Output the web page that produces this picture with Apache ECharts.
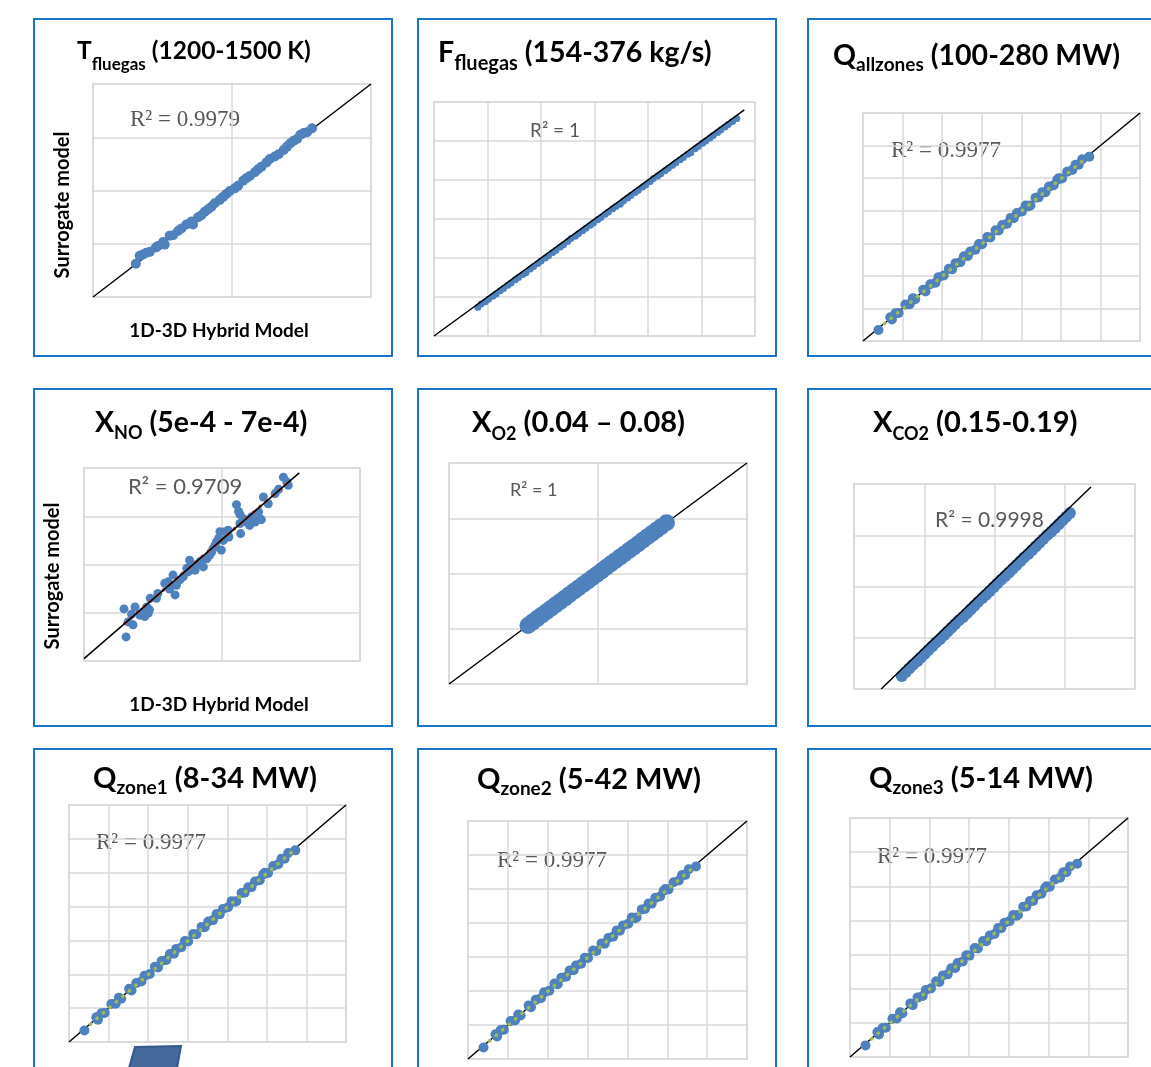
<!DOCTYPE html>
<html lang="en">
<head>
<meta charset="UTF-8">
<title>Surrogate model vs 1D-3D hybrid model</title>
<script src="https://cdn.jsdelivr.net/npm/echarts@6.0.0/dist/echarts.min.js"></script>
<style>
    html, body { margin: 0; padding: 0; background: #fff; }
    #main { width: 1151px; height: 1067px; }
</style>
</head>
<body>
<div id="main"></div>
<script>
    // values; the original has no tick labels, so axis units are nominal

    // T fluegas (K)
    var tX = [1077, 1084, 1090, 1096, 1102, 1113, 1117, 1126, 1129, 1138, 1144, 1153, 1159, 1168, 1177, 1180, 1189, 1195, 1201, 1207,
              1213, 1219, 1228, 1234, 1240, 1246, 1255, 1261, 1270, 1276, 1282, 1291, 1297, 1303, 1312, 1318, 1327, 1334, 1343, 1349,
              1355, 1361, 1367, 1373, 1379, 1385, 1394];
    var tY = [1078, 1097, 1100, 1104, 1106, 1116, 1120, 1129, 1123, 1144, 1145, 1155, 1161, 1170, 1177, 1170, 1187, 1192, 1200, 1206,
              1212, 1220, 1228, 1235, 1242, 1249, 1255, 1261, 1273, 1279, 1284, 1293, 1300, 1306, 1316, 1324, 1330, 1335, 1345, 1353,
              1361, 1367, 1371, 1381, 1385, 1387, 1396];
    var tRef = [[1000, 1000], [1500, 1500]];

    // F fluegas (kg/s)
    var fX = [141, 144, 148, 151, 155, 158, 162, 165, 169, 172, 176, 179, 183, 186, 190, 193, 197, 200, 204, 207,
              211, 214, 218, 221, 225, 228, 232, 235, 239, 242, 246, 249, 253, 256, 260, 263, 267, 270, 274, 277,
              281, 284, 288, 291, 295, 298, 302, 305, 309, 312, 316, 319, 323, 326, 330, 333, 337, 340, 344, 347,
              351, 354, 358, 361, 365, 368, 372, 375, 379, 383];
    var fY = [137, 141, 144, 147, 151, 154, 158, 161, 165, 168, 172, 175, 179, 181, 186, 189, 193, 196, 200, 203,
              207, 210, 214, 217, 221, 225, 228, 231, 235, 238, 242, 245, 249, 252, 256, 259, 263, 266, 269, 273,
              277, 280, 284, 287, 291, 294, 298, 302, 305, 308, 312, 315, 319, 322, 326, 329, 333, 335, 340, 343,
              347, 350, 354, 357, 361, 364, 368, 371, 375, 379];
    var fRef = [[100, 100], [390, 390]];

    // Q panels (allzones, zone1..3) show the same scatter, in % of the plotted range
    var qX = [3.9, 6.9, 7.3, 8.2, 9.0, 10.7, 11.8, 12.6, 13.2, 15.2, 15.8, 17.0, 18.3, 19.1, 20.4, 21.7, 22.5, 23.4, 24.6, 25.5,
              26.5, 27.1, 28.4, 29.3, 30.1, 31.4, 32.2, 33.5, 34.3, 35.2, 36.4, 37.3, 38.1, 38.9, 40.2, 41.1, 41.9, 42.3, 43.6, 44.4,
              45.3, 46.1, 47.0, 48.2, 49.1, 49.5, 50.3, 51.6, 52.9, 53.7, 54.5, 55.4, 57.2];
    var qY = [3.4, 7.3, 6.6, 8.5, 8.6, 11.2, 11.3, 13.1, 12.8, 15.7, 15.2, 17.4, 17.9, 19.6, 20.1, 22.2, 22.0, 23.9, 24.2, 26.0,
              26.1, 27.5, 28.0, 29.8, 29.7, 31.9, 31.8, 34.0, 33.9, 35.6, 36.0, 37.8, 37.7, 39.3, 39.8, 41.6, 41.4, 41.6, 44.0, 44.1,
              45.7, 45.7, 47.4, 47.8, 49.5, 50.0, 49.9, 52.0, 52.5, 54.1, 54.1, 55.8, 56.6];
    var qRef = [[0, 0], [70, 70]];
    var qTrend = [[5.4, 5.3], [56.7, 56.5]];

    // X NO (x 1e-4)
    var noX = [4.58, 4.61, 4.64, 4.71, 4.69, 4.74, 4.81, 4.86, 4.88, 4.91, 4.93, 4.95, 4.96, 5.07, 5.05, 5.17, 5.22, 5.24, 5.27, 5.29,
               5.32, 5.34, 5.39, 5.44, 5.49, 5.51, 5.53, 5.56, 5.61, 5.63, 5.68, 5.73, 5.78, 5.82, 5.85, 5.87, 5.90, 5.92, 5.95, 5.97,
               5.99, 6.02, 6.04, 6.09, 6.10, 6.21, 6.24, 6.26, 6.26, 6.27, 6.31, 6.36, 6.40, 6.43, 6.48, 6.53, 6.55, 6.57, 6.60, 6.67,
               6.77, 6.82, 6.89, 6.94, 6.96];
    var noY = [5.08, 4.50, 4.81, 4.75, 4.97, 5.12, 4.95, 5.02, 4.92, 5.12, 4.99, 5.06, 5.30, 5.40, 5.30, 5.61, 5.64, 5.49, 5.57, 5.78,
               5.37, 5.57, 5.68, 5.75, 5.92, 5.85, 6.09, 5.95, 5.88, 5.99, 6.06, 5.95, 6.12, 6.19, 6.26, 6.33, 6.40, 6.47, 6.54, 6.68,
               6.30, 6.50, 6.68, 6.71, 6.57, 7.24, 7.10, 7.04, 6.85, 6.64, 6.95, 6.88, 6.81, 6.99, 6.88, 7.09, 6.95, 6.93, 7.40, 7.26,
               7.47, 7.56, 7.81, 7.71, 7.64];
    var noRef = [[4.0, 4.05], [7.12, 7.9]];
    var noTrend = [[4.59, 4.78], [6.94, 7.68]];

    // X O2 (%)
    var o2X = [3.18, 3.36, 3.55, 3.73, 3.92, 4.10, 4.29, 4.47, 4.66, 4.84, 5.03, 5.21, 5.40, 5.58, 5.77, 5.95, 6.14, 6.32, 6.51, 6.69,
               6.88, 7.06, 7.25, 7.43, 7.62, 7.80, 7.99, 8.17, 8.36, 8.54, 8.76];
    var o2Y = [3.18, 3.36, 3.55, 3.73, 3.92, 4.10, 4.29, 4.47, 4.66, 4.84, 5.03, 5.21, 5.40, 5.58, 5.77, 5.95, 6.14, 6.32, 6.51, 6.69,
               6.88, 7.06, 7.25, 7.43, 7.62, 7.80, 7.99, 8.17, 8.36, 8.54, 8.76];
    var o2Ref = [[0, 0], [12, 12]];

    // X CO2 (%)
    var co2X = [14.52, 14.60, 14.68, 14.76, 14.85, 14.93, 15.01, 15.09, 15.17, 15.25, 15.34, 15.42, 15.50, 15.58, 15.66, 15.74,
                15.83, 15.91, 15.99, 16.07, 16.15, 16.24, 16.32, 16.40, 16.48, 16.56, 16.64, 16.73, 16.81, 16.89, 16.97, 17.05,
                17.13, 17.22, 17.30, 17.38, 17.46, 17.54, 17.62, 17.71, 17.79, 17.87, 17.95, 18.03, 18.11];
    var co2Y = [13.88, 13.99, 14.10, 14.21, 14.31, 14.42, 14.53, 14.64, 14.75, 14.86, 14.96, 15.07, 15.18, 15.29, 15.40, 15.51,
                15.61, 15.72, 15.83, 15.94, 16.05, 16.16, 16.26, 16.37, 16.48, 16.59, 16.70, 16.81, 16.91, 17.02, 17.13, 17.24,
                17.35, 17.45, 17.56, 17.67, 17.78, 17.89, 18.00, 18.10, 18.21, 18.32, 18.43, 18.54, 18.65];
    var co2Ref = [[14.08, 13.5], [18.56, 19.41]];

    var BLUE = '#4F81BD';
    var GRIDC = '#D9D9D9';
    var SERIF = '"Liberation Serif", "Times New Roman", serif';
    var SANS = 'Lato, "Open Sans", sans-serif';

    // layout of the nine panels
    // tpos: [left, middle y, main size, subscript size, subscript drop]
    var panels = [
        { box: [34, 19], grid: [93, 84, 278, 213], x: [1000, 1500, 250], y: [1000, 1500, 125],
          px: tX, py: tY, size: 10, ref: tRef, refTop: false,
          title: ['T', 'fluegas', ' (1200-1500 K)'], tpos: [77, 51, 24.5, 17, 28],
          r2: ['R² = 0.9979', 130, 120, SERIF, 23] },
        { box: [418, 19], grid: [434, 102, 321, 234], x: [100, 400, 50], y: [100, 400, 50],
          px: fX, py: fY, size: 7, ref: fRef, refTop: true,
          title: ['F', 'fluegas', ' (154-376 kg/s)'], tpos: [438, 53, 28.5, 20, 22],
          r2: ['R² = 1', 530, 131, SANS, 19] },
        { box: [808, 19], grid: [863, 113, 277, 228], x: [0, 70, 10], y: [0, 70, 10],
          px: qX, py: qY, size: 10, ref: qRef, refTop: false, trend: qTrend, trendColor: '#9BBB59',
          title: ['Q', 'allzones', ' (100-280 MW)'], tpos: [833, 56, 28.5, 19, 18],
          r2: ['R² = 0.9977', 891, 151, SERIF, 23] },
        { box: [34, 389], grid: [84, 468, 276, 193], x: [4, 8, 2], y: [4, 8, 1],
          px: noX, py: noY, size: 9, ref: noRef, refTop: true, trend: noTrend, trendColor: '#C0504D',
          title: ['X', 'NO', ' (5e-4 - 7e-4)'], tpos: [95, 423, 28.5, 18, 20],
          r2: ['R² = 0.9709', 128, 487, SANS, 22] },
        { box: [418, 389], grid: [449, 463, 298, 221], x: [0, 12, 6], y: [0, 12, 3],
          px: o2X, py: o2Y, size: 17, ref: o2Ref, refTop: false,
          title: ['X', 'O2', ' (0.04 – 0.08)'], tpos: [472, 423, 29, 18, 22],
          r2: ['R² = 1', 510, 490, SANS, 18] },
        { box: [808, 389], grid: [854, 484, 281, 205], x: [13.5, 19.5, 1.5], y: [13.5, 19.5, 1.5],
          px: co2X, py: co2Y, size: 12, ref: co2Ref, refTop: true,
          title: ['X', 'CO2', ' (0.15-0.19)'], tpos: [873, 423, 29, 18, 23],
          r2: ['R² = 0.9998', 935, 520, SANS, 21] },
        { box: [34, 749], grid: [69, 805, 277, 237], x: [0, 70, 10], y: [0, 70, 10],
          px: qX, py: qY, size: 10, ref: qRef, refTop: false, trend: qTrend, trendColor: '#9BBB59',
          title: ['Q', 'zone1', ' (8-34 MW)'], tpos: [93, 779, 29, 19, 18],
          r2: ['R² = 0.9977', 96, 843, SERIF, 23] },
        { box: [418, 749], grid: [468, 821, 279, 238], x: [0, 70, 10], y: [0, 70, 10],
          px: qX, py: qY, size: 10, ref: qRef, refTop: false, trend: qTrend, trendColor: '#9BBB59',
          title: ['Q', 'zone2', ' (5-42 MW)'], tpos: [477, 780, 29, 19, 18],
          r2: ['R² = 0.9977', 497, 861, SERIF, 23] },
        { box: [808, 749], grid: [850, 818, 278, 239], x: [0, 70, 10], y: [0, 70, 10],
          px: qX, py: qY, size: 10, ref: qRef, refTop: false, trend: qTrend, trendColor: '#9BBB59',
          title: ['Q', 'zone3', ' (5-14 MW)'], tpos: [869, 779, 29, 19, 18],
          r2: ['R² = 0.9977', 877, 857, SERIF, 23] }
    ];

    var grids = [], xAxes = [], yAxes = [], series = [], graphics = [];

    function valueAxis(i, r) {
        return {
            type: 'value', gridIndex: i, min: r[0], max: r[1], interval: r[2],
            axisLine: { show: false }, axisTick: { show: false }, axisLabel: { show: false },
            splitLine: { show: true, lineStyle: { color: GRIDC, width: 1.5 } }
        };
    }

    panels.forEach(function (p, i) {
        grids.push({ left: p.grid[0], top: p.grid[1], width: p.grid[2], height: p.grid[3],
                     show: true, borderColor: GRIDC, borderWidth: 1.5 });
        xAxes.push(valueAxis(i, p.x));
        yAxes.push(valueAxis(i, p.y));

        series.push({
            type: 'line', xAxisIndex: i, yAxisIndex: i, data: p.ref, symbol: 'none', silent: true,
            lineStyle: { color: '#000', width: 1.5 }, z: p.refTop ? 6 : 1
        });
        series.push({
            type: 'scatter', xAxisIndex: i, yAxisIndex: i, symbolSize: p.size, silent: true,
            data: p.px.map(function (v, k) { return [v, p.py[k]]; }),
            itemStyle: { color: BLUE, opacity: 1 }, z: 3
        });
        if (p.trend) {
            series.push({
                type: 'line', xAxisIndex: i, yAxisIndex: i, data: p.trend, symbol: 'none', silent: true,
                lineStyle: { color: p.trendColor, width: 3.5, type: [0.5, 8], cap: 'round' }, z: 5
            });
        }

        // blue frame round each panel
        graphics.push({ type: 'rect', shape: { x: p.box[0], y: p.box[1], width: p.box[0] > 800 ? 420 : 358, height: p.box[1] > 700 ? 400 : 337 },
                        style: { fill: 'none', stroke: '#1874C6', lineWidth: 2 }, silent: true });

        // title with subscript
        var t = p.tpos;
        graphics.push({
            type: 'text', x: t[0], y: t[1], silent: true,
            style: {
                text: '{m|' + p.title[0] + '}{s|' + p.title[1] + '}{m|' + p.title[2] + '}',
                verticalAlign: 'middle',
                rich: {
                    m: { fontFamily: SANS, fontWeight: 'bold', fontSize: t[2], fill: '#000' },
                    s: { fontFamily: SANS, fontWeight: 'bold', fontSize: t[3], fill: '#000', padding: [t[4], 0, 0, 0] }
                }
            }
        });

        // R² label
        graphics.push({
            type: 'text', x: p.r2[1], y: p.r2[2], silent: true,
            style: { text: p.r2[0], fontFamily: p.r2[3], fontSize: p.r2[4], fill: '#595959', verticalAlign: 'middle' }
        });
    });

    // axis titles on the first column
    [[63, 205], [53, 576]].forEach(function (c) {
        graphics.push({ type: 'text', x: c[0], y: c[1], rotation: Math.PI / 2, silent: true,
                        style: { text: 'Surrogate model', fontFamily: SANS, fontWeight: 'bold', fontSize: 20,
                                 fill: '#000', align: 'center', verticalAlign: 'middle' } });
    });
    [[219, 331], [219, 705]].forEach(function (c) {
        graphics.push({ type: 'text', x: c[0], y: c[1], silent: true,
                        style: { text: '1D-3D Hybrid Model', fontFamily: SANS, fontWeight: 'bold', fontSize: 19,
                                 fill: '#000', align: 'center', verticalAlign: 'middle' } });
    });

    // stray shape cut by the bottom edge
    graphics.push({ type: 'polygon', silent: true,
                    shape: { points: [[135, 1047], [181, 1046], [177, 1068], [129, 1068]] },
                    style: { fill: '#46699C', stroke: '#36598B', lineWidth: 2 } });

    var myChart = echarts.init(document.getElementById('main'), null, { renderer: 'canvas' });
    option = {
        animation: false,
        backgroundColor: '#fff',
        grid: grids,
        xAxis: xAxes,
        yAxis: yAxes,
        series: series,
        graphic: graphics
    };
    myChart.setOption(option);
</script>
</body>
</html>
